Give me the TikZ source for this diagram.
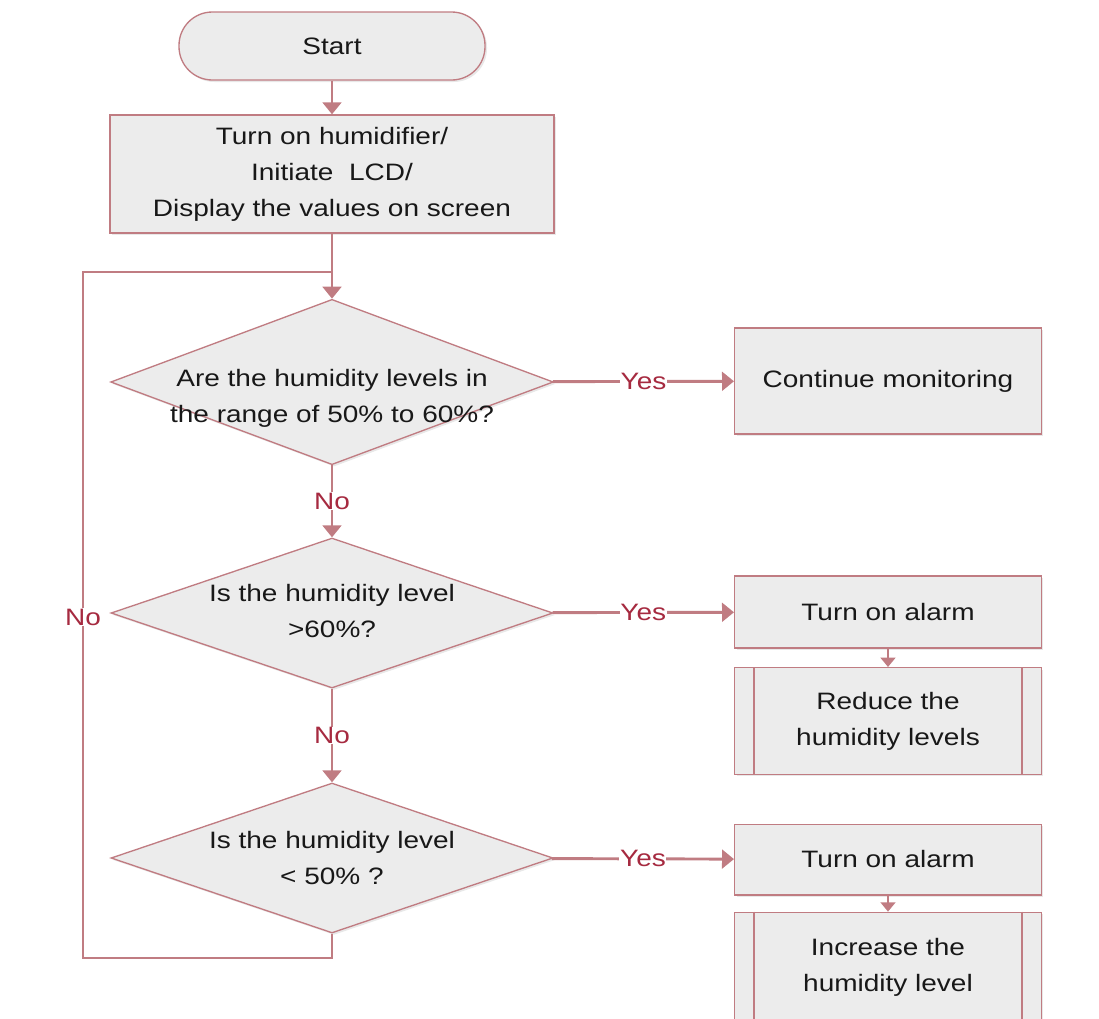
\documentclass[tikz,border=0pt]{standalone}
\usepackage{fontspec}
\setmainfont{Liberation Sans}[FakeStretch=1.18]
\usetikzlibrary{shapes.geometric,arrows.meta,shadows}

\definecolor{edgerose}{RGB}{192,124,130}
\definecolor{labelred}{RGB}{166,42,64}
\definecolor{boxgray}{RGB}{236,236,236}
\definecolor{inkgray}{RGB}{24,24,24}

\begin{document}
\begin{tikzpicture}[x=.75pt,y=-.75pt,
  boxbase/.style={draw=edgerose,line width=1pt,fill=boxgray,text=inkgray,
    drop shadow={opacity=.18,shadow xshift=1.5pt,shadow yshift=-1.5pt},
    align=center,inner sep=0pt,font=\fontsize{17.8}{27}\selectfont},
  procbox/.style={boxbase,rectangle},
  startbox/.style={boxbase,rectangle,rounded corners=25pt},
  decision/.style={boxbase,diamond,inner sep=0pt},
  decitext/.style={align=center,text=inkgray,inner sep=0pt,font=\fontsize{17.8}{27}\selectfont},
  flow/.style={draw=edgerose,line width=2.2pt},
  tip/.style={-{Triangle[width=14pt,length=9pt]}},
  smalltip/.style={-{Triangle[width=11pt,length=7pt]}},
  yesno/.style={fill=white,text=labelred,inner sep=.5pt,font=\fontsize{17.8}{20}\selectfont}]
\path[use as bounding box] (0,0) rectangle (1099,1018);

% main column
\node[startbox,minimum width=229.5pt,minimum height=51pt] (start) at (332,46) {Start};
\node[procbox,minimum width=333pt,minimum height=88.5pt] (init) at (332,174)
  {Turn on humidifier/\\Initiate\ \ LCD/\\Display the values on screen};
\node[decision,minimum width=332pt,minimum height=124pt] (range) at (332,382) {};
\node[decitext] (rangetext) at (332,398) {Are the humidity levels in\\the range of 50\% to 60\%?};
\node[decision,minimum width=331.5pt,minimum height=112.5pt] (high) at (332,613) {};
\node[decitext] (hightext) at (332,611) {Is the humidity level\\>60\%?};
\node[decision,minimum width=331.5pt,minimum height=112.5pt] (low) at (332,858) {};
\node[decitext] (lowtext) at (332,858) {Is the humidity level\\< 50\% ?};

% right column
\node[procbox,minimum width=230pt,minimum height=79.5pt] (monitor) at (888,381) {Continue monitoring};
\node[procbox,minimum width=230pt,minimum height=54pt] (alarmhigh) at (888,612) {Turn on alarm};
\node[procbox,minimum width=230pt,minimum height=80pt] (reduce) at (888,721) {Reduce the\\humidity levels};
\node[procbox,minimum width=230pt,minimum height=53pt] (alarmlow) at (888,859.5) {Turn on alarm};
\node[procbox,minimum width=230pt,minimum height=82pt] (increase) at (888,967) {Increase the\\humidity level};
\foreach \sub in {reduce,increase}{
  \draw[edgerose,line width=1pt] ([xshift=15pt]\sub.north west) -- ([xshift=15pt]\sub.south west);
  \draw[edgerose,line width=1pt] ([xshift=-15pt]\sub.north east) -- ([xshift=-15pt]\sub.south east);
}

% connectors
\coordinate (join) at (332,272);
\coordinate (loopcorner) at (83,958);
\draw[flow,tip] (start) -- (init);
\draw[flow,tip] (init) -- (range);
\draw[flow] (low.south) |- (loopcorner) |- (join);
\node[yesno] (noloop) at (83,617) {No};
\draw[flow,tip] (range) -- node[yesno] (noone) {No} (high);
\draw[flow,tip] (high) -- node[yesno] (notwo) {No} (low);
\draw[flow,tip] (range) -- node[yesno] (yesone) {Yes} (monitor);
\draw[flow,tip] (high) -- node[yesno] (yestwo) {Yes} (alarmhigh);
\draw[flow,tip] (low) -- node[yesno] (yesthree) {Yes} (alarmlow);
\draw[flow,smalltip] (alarmhigh) -- (reduce);
\draw[flow,smalltip] (alarmlow) -- (increase);
\end{tikzpicture}
\end{document}
